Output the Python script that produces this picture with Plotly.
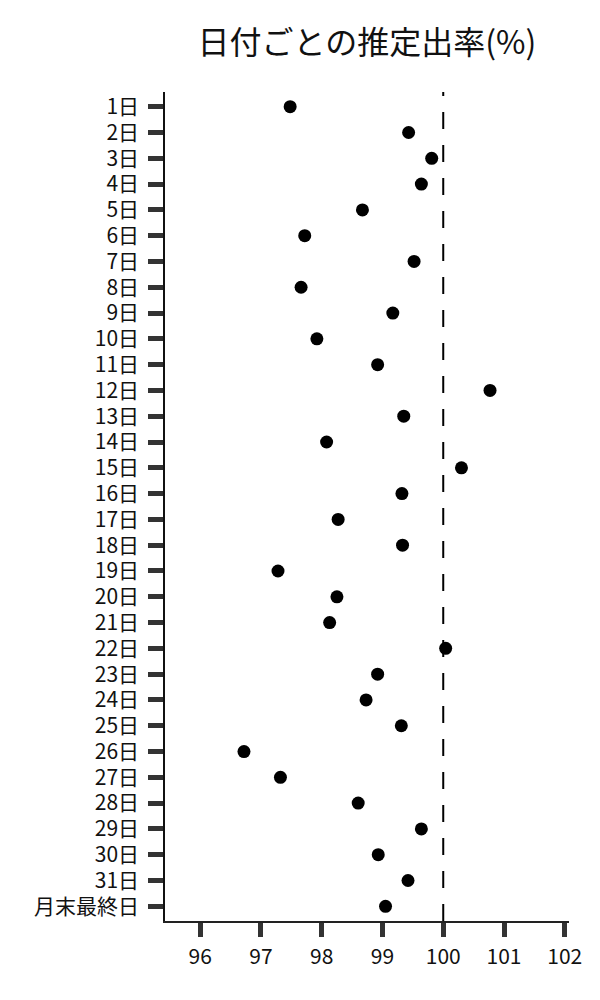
import plotly.graph_objects as go

# 日付ラベルと推定出率
days = [f"{d}日" for d in range(1, 32)] + ["月末最終日"]
rates = [97.48, 99.43, 99.81, 99.64, 98.67, 97.72, 99.52, 97.66,
         99.17, 97.92, 98.92, 100.77, 99.35, 98.08, 100.30, 99.32,
         98.27, 99.33, 97.28, 98.25, 98.13, 100.04, 98.92, 98.73,
         99.31, 96.72, 97.32, 98.60, 99.64, 98.93, 99.42, 99.05]
x_ticks = [96, 97, 98, 99, 100, 101, 102]
ref_value = 100

font_name = "Noto Sans CJK JP"

fig = go.Figure()
fig.add_trace(go.Scatter(
    x=rates, y=days, mode="markers",
    marker=dict(color="black", size=13),
    showlegend=False,
))

# 100% の基準線
fig.add_shape(type="line", x0=ref_value, x1=ref_value, y0=0, y1=1,
              xref="x", yref="paper",
              line=dict(color="black", width=2, dash="17px,16px"))

fig.update_layout(
    width=600, height=1000,
    plot_bgcolor="white", paper_bgcolor="white",
    font=dict(family=font_name, size=21, color="#111"),
    title=dict(text="日付ごとの推定出率(%)", x=0.5, xref="paper",
               y=0.965, yref="container", yanchor="middle",
               font=dict(family=font_name, size=32, color="#111")),
    margin=dict(l=157, r=39, t=84, b=87),
)
fig.update_xaxes(
    range=[95.42, 102.07], tickvals=x_ticks, showgrid=False, zeroline=False,
    showline=True, linecolor="#222", linewidth=1.5,
    ticks="outside", ticklen=14, tickwidth=5, tickcolor="#333",
    ticklabelstandoff=2,
)
fig.update_yaxes(
    type="category", categoryorder="array", categoryarray=days,
    range=[len(days) - 0.43, -0.57], showgrid=False, zeroline=False,
    showline=True, linecolor="#111", linewidth=1.5,
    ticks="outside", ticklen=15, tickwidth=5, tickcolor="#333",
    ticklabelstandoff=5,
)

fig.write_html("out.html")
